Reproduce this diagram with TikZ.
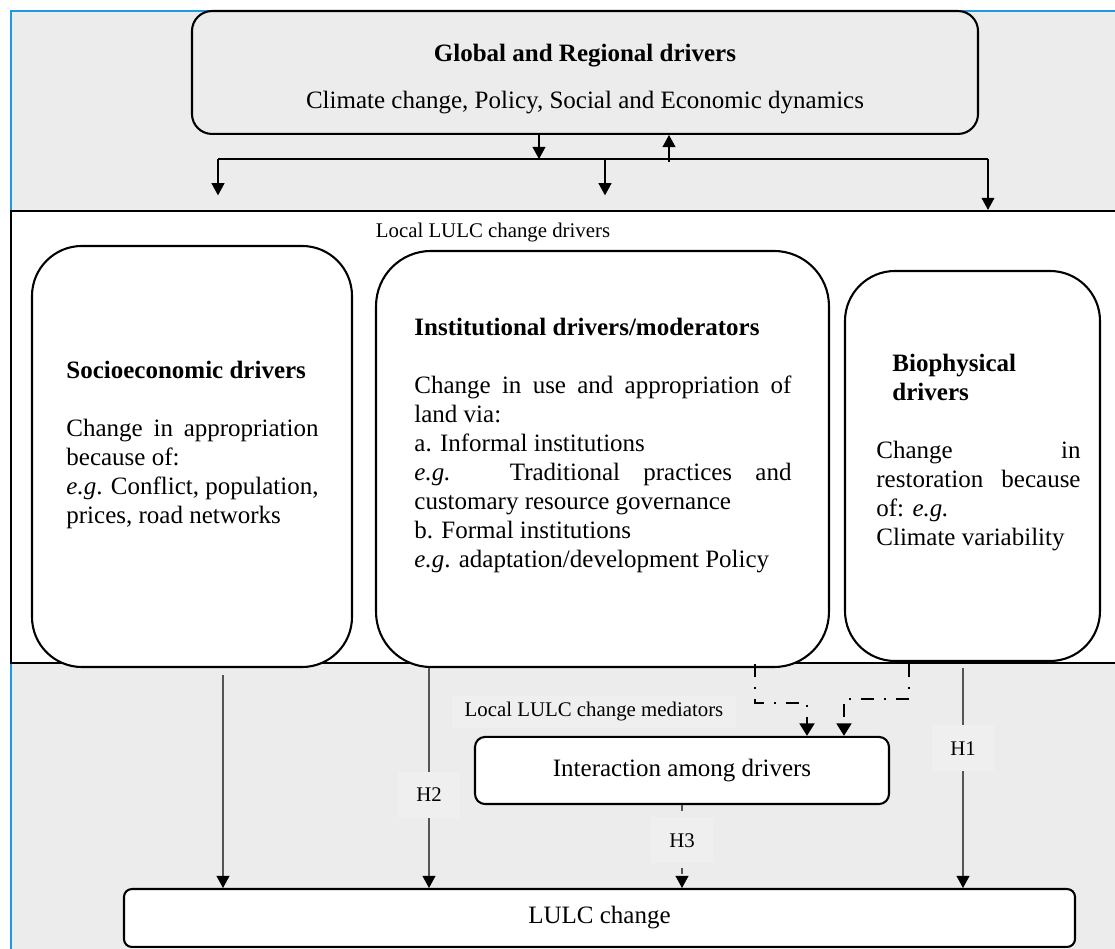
\documentclass[tikz,border=0pt]{standalone}
\usepackage{fontspec}
\setmainfont{Liberation Serif}
\usepackage{tikz}
\usetikzlibrary{arrows.meta,positioning}
\definecolor{bggray}{HTML}{ECECEC}
\definecolor{labgray}{HTML}{EFEFEF}
\definecolor{framblue}{HTML}{1E9BE0}
\definecolor{arrgray}{HTML}{555555}

\begin{document}
\begin{tikzpicture}[x=0.48pt,y=-0.48pt,
  every node/.style={font=\fontsize{12}{13.9}\selectfont},
  lab10/.style={font=\fontsize{10}{12}\selectfont},
  drvbox/.style={draw,line width=1pt,fill=white,rounded corners=24pt,inner sep=0pt},
  ovbox/.style={draw,line width=1pt,fill=white,rounded corners=4.8pt},
  bodytxt/.style={align=justify,inner sep=0pt,anchor=north west},
  dnarrow/.style={line width=0.5pt,-{Triangle[length=5.8pt,width=6.2pt]}},
  garrow/.style={draw=arrgray,line width=0.5pt,-{Triangle[length=5.8pt,width=6.2pt,color=black]}},
  hlab/.style={lab10,fill=labgray,inner xsep=9pt,minimum height=22pt},
  medline/.style={line width=1.4pt,dash pattern=on 6.2pt off 4.8pt on 1pt off 4.8pt,-{Triangle[length=6pt,width=7pt]}}]
\useasboundingbox (0,0) rectangle (1115,949);
\fill[bggray] (11,11) rectangle (1115,949);
\draw[framblue,line width=1pt] (11,949) -- (11,11) -- (1115,11);

% global level
\node[draw,line width=1pt,rounded corners=9.6pt,minimum width=377.3pt,minimum height=59pt] (global) at (585,72.5) {};
\node[align=center] (globaltxt) at (585,79)
  {\textbf{Global and Regional drivers}\\[9pt]Climate change, Policy, Social and Economic dynamics};

% local drivers band
\node[draw,line width=1pt,fill=white,minimum width=534.7pt,minimum height=217pt,inner sep=0pt] (local) at (568,437) {};
\node[lab10] (drvlabel) at (493,233) {Local LULC change drivers};

\node[drvbox,minimum width=153.6pt,minimum height=202.1pt] (socio) at (192,456.5) {};
\node[drvbox,rounded corners=26.4pt,minimum width=217.4pt,minimum height=199.7pt] (inst) at (602.5,459) {};
\node[drvbox,minimum width=122.4pt,minimum height=187.2pt] (bio) at (972.5,466) {};

\node[bodytxt,text width=121pt] (sociotxt) at (66,361)
  {\textbf{Socioeconomic drivers}\\[13.9pt]
   Change in appropriation because of:\\
   \textit{e.g}. Conflict, population, prices, road networks};
\node[bodytxt,text width=181pt] (insttxt) at (414,318)
  {\textbf{Institutional drivers/moderators}\\[13.9pt]
   Change in use and appropriation of land via:\\
   a. Informal institutions\\
   \textit{e.g.} Traditional practices and\linebreak customary resource governance\\
   b. Formal institutions\\
   \textit{e.g}. adaptation/development Policy};
\node[bodytxt,text width=98pt] (biotxt) at (876,354)
  {\hspace*{7.7pt}\textbf{Biophysical}\\
   \hspace*{7.7pt}\textbf{drivers}\\[13.9pt]
   Change\hfill in\\
   restoration\hfill because\\
   of: \textit{e.g.}\\
   Climate variability};

% mediators and outcome
\node[lab10,fill=labgray,inner xsep=6pt] (medlabel) at (594,712) {Local LULC change mediators};
\node[ovbox,minimum width=198.7pt,minimum height=32.2pt] (inter) at (682,770.5) {Interaction among drivers};
\node[ovbox,rounded corners=3.8pt,minimum width=456.5pt,minimum height=27.8pt] (lulc) at (599.5,918) {LULC change};

% top bus
\coordinate (busL) at (218,159);
\coordinate (busR) at (988,159);
\coordinate (d1) at (539,159);
\coordinate (d2) at (605,159);
\coordinate (u1) at (669,162);
\draw[line width=1pt] (busL) -- (busR);
\draw[dnarrow,shorten >=7pt] (busL) -- (busL |- local.north);
\draw[dnarrow,shorten >=7pt] (d2) -- (d2 |- local.north);
\draw[dnarrow] (busR) -- (busR |- local.north);
\draw[dnarrow] (d1 |- global.south) -- (d1);
\draw[dnarrow] (u1) -- (u1 |- global.south);

% hypotheses
\coordinate (s1) at (223,675);
\coordinate (s2) at (429,668);
\coordinate (s3) at (963,668);
\draw[garrow] (s1) -- (s1 |- lulc.north);
\draw[garrow] (s2) -- node[hlab,pos=0.577] (h2) {H2} (s2 |- lulc.north);
\draw[garrow] (s3) -- node[hlab,pos=0.365] (h1) {H1} (s3 |- lulc.north);
\draw[garrow,dash pattern=on 3pt off 3pt on 1pt off 3pt] (inter.south) -- node[hlab,pos=0.425] (h3) {H3} (inter.south |- lulc.north);

% moderating links
\coordinate (m1) at (755,703);
\coordinate (m2) at (909,699);
\coordinate (t1) at (807,0);
\coordinate (t2) at (844,0);
\draw[medline] (m1 |- local.south) -- (m1) -| (t1 |- inter.north);
\draw[medline] (m2 |- local.south) -- (m2) -| (t2 |- inter.north);
\end{tikzpicture}
\end{document}
